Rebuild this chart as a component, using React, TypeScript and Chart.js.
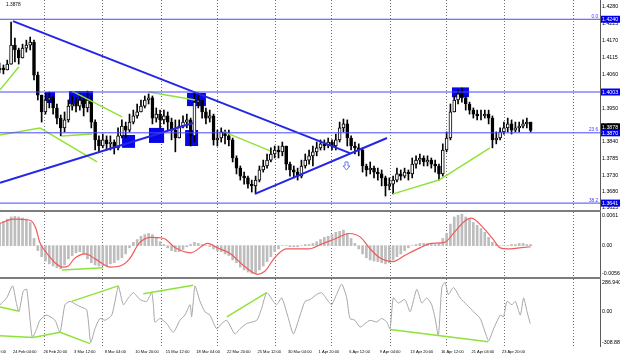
import React, { useEffect, useRef } from "react";
import { Chart, registerables } from "chart.js";

Chart.register(...registerables);

const FONT = "'Liberation Sans', 'DejaVu Sans', Arial, sans-serif";

// ---------- time axis (4-hour bars, bar 0 = 24 Feb 04:00) ----------
const TIME_LABELS = [
  "19 Feb 12:00", "24 Feb 04:00", "26 Feb 20:00", "3 Mar 12:00", "8 Mar 04:00",
  "10 Mar 20:00", "15 Mar 12:00", "18 Mar 04:00", "22 Mar 20:00", "25 Mar 12:00",
  "30 Mar 04:00", "1 Apr 20:00", "6 Apr 12:00", "9 Apr 04:00", "13 Apr 20:00",
  "16 Apr 12:00", "21 Apr 04:00", "23 Apr 20:00",
];
const TIME_LABEL_BARS = [-16, 0, 16, 32, 48, 64, 80, 96, 112, 128, 144, 160, 176, 192, 208, 224, 240, 256];
const GRID_BARS = [16.75, 47.1, 77.5, 107.3, 137.2, 167, 197.4, 227.2, 257.1, 293.2];
const X_MIN = -6.8;
const X_MAX = 307.3;

// ---------- candles (8-hour steps), prices in pips (1/10000) ----------
const CANDLE_FIRST_BAR = -7;
const CANDLE_STEP = 2;
const FIRST_OPEN = 14075;
const HIGHS = [
  14097, 14091, 14107, 14231, 14179, 14146, 14159, 14172, 14182, 14172,
  14068, 13984, 14000, 14003, 13990, 13964, 13928, 13938, 13977, 13990,
  13984, 13997, 13990, 14006, 13993, 13912, 13860, 13866, 13860, 13860,
  13847, 13886, 13912, 13905, 13931, 13944, 13964, 13977, 13990, 13997,
  13990, 13951, 13944, 13944, 13938, 13918, 13912, 13912, 13925, 13931,
  13918, 14003, 14000, 13977, 13951, 13944, 13931, 13879, 13886, 13879,
  13879, 13853, 13795, 13762, 13742, 13729, 13716, 13729, 13762, 13781,
  13801, 13821, 13827, 13827, 13840, 13827, 13775, 13762, 13755, 13781,
  13801, 13814, 13827, 13840, 13847, 13847, 13853, 13847, 13866, 13905,
  13915, 13912, 13860, 13840, 13834, 13821, 13768, 13775, 13762, 13755,
  13749, 13729, 13723, 13729, 13755, 13749, 13755, 13749, 13788, 13795,
  13801, 13795, 13795, 13788, 13781, 13768, 13834, 13873, 13964, 13990,
  14010, 14016, 13990, 13970, 13951, 13944, 13944, 13944, 13944, 13925,
  13873, 13886, 13905, 13918, 13912, 13905, 13905, 13912, 13918, 13905,
];
const LOWS = [
  14065, 14062, 14075, 14107, 14101, 14094, 14114, 14133, 14140, 14042,
  13977, 13905, 13931, 13951, 13931, 13899, 13860, 13873, 13905, 13944,
  13938, 13944, 13925, 13938, 13886, 13814, 13808, 13821, 13814, 13814,
  13801, 13814, 13853, 13853, 13873, 13899, 13918, 13938, 13951, 13964,
  13899, 13905, 13886, 13899, 13879, 13847, 13808, 13866, 13886, 13886,
  13827, 13840, 13951, 13918, 13899, 13905, 13830, 13827, 13840, 13834,
  13827, 13775, 13736, 13716, 13703, 13690, 13677, 13671, 13710, 13742,
  13755, 13775, 13788, 13788, 13795, 13749, 13729, 13723, 13716, 13723,
  13755, 13768, 13762, 13795, 13814, 13814, 13821, 13814, 13814, 13840,
  13873, 13827, 13814, 13801, 13795, 13742, 13729, 13736, 13723, 13716,
  13697, 13664, 13684, 13671, 13710, 13716, 13723, 13716, 13723, 13755,
  13768, 13762, 13762, 13755, 13742, 13716, 13729, 13808, 13847, 13938,
  13964, 13970, 13944, 13931, 13918, 13912, 13912, 13918, 13899, 13821,
  13834, 13847, 13866, 13873, 13866, 13873, 13873, 13886, 13886, 13873,
];
const CLOSES = [
  14081, 14075, 14094, 14156, 14140, 14114, 14146, 14156, 14166, 14058,
  13993, 13938, 13977, 13984, 13951, 13918, 13886, 13912, 13957, 13964,
  13957, 13977, 13951, 13977, 13905, 13847, 13827, 13847, 13834, 13840,
  13821, 13860, 13892, 13879, 13905, 13925, 13938, 13957, 13977, 13984,
  13918, 13931, 13912, 13925, 13905, 13879, 13853, 13892, 13905, 13912,
  13860, 13970, 13977, 13938, 13918, 13925, 13847, 13853, 13873, 13860,
  13847, 13788, 13755, 13729, 13723, 13703, 13697, 13716, 13749, 13762,
  13781, 13801, 13814, 13808, 13827, 13768, 13749, 13742, 13729, 13762,
  13781, 13795, 13808, 13821, 13834, 13827, 13840, 13827, 13847, 13886,
  13899, 13853, 13827, 13821, 13814, 13762, 13749, 13755, 13742, 13736,
  13723, 13697, 13703, 13716, 13736, 13729, 13742, 13736, 13768, 13781,
  13788, 13775, 13781, 13768, 13762, 13736, 13814, 13853, 13938, 13977,
  13997, 13984, 13964, 13944, 13931, 13925, 13925, 13931, 13918, 13847,
  13853, 13873, 13886, 13899, 13879, 13886, 13892, 13899, 13905, 13878,
];

// ---------- price axis & drawn objects ----------
const PRICE_TICKS = [14280, 14225, 14170, 14115, 14060, 14005, 13950, 13895, 13840, 13785, 13730, 13680, 13625];
const PRICE_MIN = 13618.5;
const PRICE_MAX = 14302.8;
const LEVELS = [14240, 14003, 13870, 13641];
const FIB_LEVELS = [14240, 13870, 13641];
const FIB_NAMES = ["0.0", "23.6", "38.2"];
const LAST_PRICE = 13878;
const TRENDLINES = [
  [0, 14234, 176.4, 13804],
  [-6.8, 13707, 94.2, 13902],
  [126.7, 13671, 195.8, 13853],
];
const MAIN_GREEN = [
  [-6.8, 14010, 3.1, 14085],
  [-6.8, 13863, 14.1, 13886],
  [14.1, 13886, 44, 13775],
  [25.7, 13860, 41.4, 13866],
  [30.9, 14006, 57.1, 13922],
  [71.2, 14003, 95.3, 13977],
  [110.5, 13873, 134.6, 13811],
  [199, 13671, 223, 13716],
  [223, 13716, 249.7, 13821],
];
const BOXES = [
  [16.8, 22.0, 14003, 13967],
  [29.3, 41.9, 14006, 13964],
  [57.1, 63.9, 13863, 13821],
  [71.2, 79.1, 13886, 13837],
  [90.1, 96.9, 13879, 13827],
  [91.1, 101.0, 14000, 13957],
  [229.8, 238.7, 14018, 13986],
];
const ARROW = [174.6, 13762];

// ---------- MACD (units of 0.0001) ----------
const MACD_MIN = -56.9;
const MACD_MAX = 61;
const MACD_LABELS = ["0.0061", "0.00", "-0.00569"];
const MACD_LABEL_VALUES = [61, 0, -56.9];
const MACD_HIST = [
  40, 44, 48, 52, 53, 52, 50, 48, 42, 13,
  -9, -20, -28, -33, -37, -40, -42, -35, -24, -18,
  -13, -11, -15, -24, -31, -35, -37, -37, -37, -33,
  -31, -26, -22, -15, -4, 6, 11, 17, 20, 22,
  20, 15, 7, 2, -4, -9, -11, -11, -7, -2,
  2, 6, 4, 2, 0, -2, -6, -9, -11, -15,
  -18, -26, -31, -39, -44, -48, -50, -50, -44, -37,
  -29, -20, -11, -6, 0, 0, -2, -2, -2, 0,
  2, 2, 4, 7, 11, 15, 17, 20, 24, 26,
  28, 22, 13, 4, -6, -15, -22, -26, -28, -29,
  -31, -33, -31, -26, -20, -15, -9, -4, 0, 2,
  4, 4, 4, 4, 2, 4, 13, 22, 39, 52,
  55, 57, 52, 48, 42, 37, 31, 24, 15, 6,
  2, 0, 0, 0, 2, 2, 4, 4, 2, 2,
];
const SIGNAL_BARS = [
  -7, 0, 9, 12, 14, 18, 22, 26, 29, 32, 38, 43, 51, 56, 61, 66, 72, 79, 85, 93,
  102, 107, 114, 121, 128, 132, 137, 143, 155, 161, 169, 176, 182, 187, 192, 199, 205, 213, 219, 226,
  231, 237, 240, 246, 251, 255, 259, 265, 271,
];
const SIGNAL_VALUES = [
  40, 48, 46, 31, 6, -15, -31, -39, -37, -24, -15, -24, -39, -37, -24, 4, 15, 13, -4, -13,
  4, -4, -15, -37, -52, -46, -22, -6, -6, 2, 13, 22, 15, -6, -22, -29, -18, -4, 4, 6,
  24, 46, 50, 33, 13, -4, -6, -4, -2,
];
const MACD_GREEN = [[25.7, -44, 47.1, -40]];

// ---------- CCI ----------
const CCI_MIN = -308.885;
const CCI_MAX = 286.9402;
const CCI_LABELS = ["286.9402", "0.00", "-308.885"];
const CCI_LABEL_VALUES = [286.9402, 0, -308.885];
const CCI_BARS = [
  -6.8, -3.3, -0.2, 1.6, 3.1, 5.4, 7.2, 10.1, 12.4, 14.1,
  17.6, 22, 24.6, 27.2, 29.8, 31.6, 35.1, 38.6, 40.7, 42.9,
  45.5, 48.2, 51.7, 54.3, 55.2, 57.8, 60.4, 63, 66.5, 70,
  72.6, 73.5, 74.3, 77, 80.5, 83.9, 87.4, 90, 92.7, 93.5,
  94.4, 95.3, 97.9, 100.5, 103.1, 106.6, 109.2, 111.9, 116.2, 118.8,
  122.3, 127.6, 130.2, 132.8, 136.3, 138, 140.7, 144.2, 146.8, 150.3,
  152.9, 155.5, 159, 161.6, 165.1, 166.8, 169.4, 172.1, 174.7, 176.4,
  179, 181.7, 184.3, 186.9, 190.4, 193, 195.6, 197.4, 199.1, 201.7,
  205.2, 207.9, 211.4, 214, 216.6, 219.2, 221, 222.7, 224.5, 226.2,
  227.9, 230.6, 234.1, 237.6, 241.1, 244.6, 247.2, 249, 251.6, 255.1,
  256.8, 258.6, 261.2, 263, 265.6, 267.3, 269.1, 270.8,
];
const CCI_VALUES = [
  58, 119, 226, 88, -4, 180, 195, -233, -156, -80,
  -34, -80, -187, 58, 88, 73, 42, 12, -278, -156,
  -64, -80, -34, 165, 226, 58, 119, 165, 104, 88,
  165, 58, -95, -64, -110, -187, -80, -34, 58, -49,
  88, 226, 88, -4, -34, -156, -110, -80, -202, -156,
  -110, -80, 27, 165, 88, 58, 119, -64, -202, -34,
  88, 104, 149, 165, 88, 58, 149, 241, 119, -64,
  -80, -141, -110, -80, -95, -64, -95, -156, 119, 73,
  104, -4, 195, 73, 119, 58, -64, -217, 211, 257,
  149, 211, 119, 58, -4, -64, -187, -263, -156, -34,
  -49, 88, 58, 88, -34, 119, -4, -110,
];
const CCI_GREEN = [
  [-6.8, 39, 2.6, 3],
  [-6.8, -217, 10.6, -233],
  [10.6, -233, 24.6, -187],
  [24.6, -187, 40.3, -288],
  [30.7, 88, 55.1, 226],
  [68.2, 156, 94.4, 232],
  [111.9, -49, 132.8, 165],
  [197.4, -162, 248.8, -272],
];

// ---------- colours ----------
const GRID_COLOR = "#6f6f6f";
const LEVEL_BLUE = "#4848ff";
const TREND_BLUE = "#2525e8";
const BOX_BLUE = "#0707e8";
const GREEN = "#8fe23a";
const AXIS_BORDER = "#5a5a5a";

const candleX = (i: number) => CANDLE_FIRST_BAR + CANDLE_STEP * i;
const OPENS = CLOSES.map((c, i) => (i === 0 ? FIRST_OPEN : CLOSES[i - 1]));

function gridAxis(): any {
  return {
    type: "linear",
    min: X_MIN,
    max: X_MAX,
    offset: false,
    bounds: "data",
    position: "bottom",
    display: true,
    afterBuildTicks: (s: any) => {
      s.ticks = GRID_BARS.map((v) => ({ value: v }));
    },
    afterFit: (s: any) => {
      s.height = 0;
      s.paddingLeft = 0;
      s.paddingRight = 0;
    },
    ticks: { display: false, autoSkip: false },
    grid: { display: true, color: GRID_COLOR, lineWidth: 1, drawTicks: false, offset: false },
    border: { display: false, dash: [1, 2] },
  };
}

function sideAxis(min: number, max: number, extra: any = {}): any {
  return {
    type: "linear",
    position: "right",
    min,
    max,
    bounds: "data",
    beginAtZero: false,
    grace: 0,
    afterFit: (s: any) => {
      s.width = 20;
      s.paddingTop = 0;
      s.paddingBottom = 0;
    },
    ticks: { display: false },
    grid: { display: false, drawTicks: false },
    border: { display: true, color: AXIS_BORDER, width: 1 },
    ...extra,
  };
}

function seg(s: number[], color: string, width: number, scale = 1): any {
  return {
    type: "line",
    data: [
      { x: s[0], y: s[1] / scale },
      { x: s[2], y: s[3] / scale },
    ],
    borderColor: color,
    borderWidth: width,
    pointRadius: 0,
    fill: false,
    tension: 0,
    order: 0,
  };
}

function panelLabels(texts: string[], values: number[]): any {
  return {
    id: "panelLabels",
    afterDraw(chart: any) {
      const { ctx, chartArea: ca } = chart;
      const y = chart.scales.y;
      ctx.save();
      ctx.font = `5.3px ${FONT}`;
      ctx.fillStyle = "#000";
      ctx.textAlign = "left";
      values.forEach((v, i) => {
        let py = y.getPixelForValue(v);
        if (i === 0) {
          ctx.textBaseline = "top";
          py += 0.5;
        } else if (i === values.length - 1) {
          ctx.textBaseline = "bottom";
          py -= 0.5;
        } else ctx.textBaseline = "middle";
        ctx.fillText(texts[i], ca.right + 2, py);
      });
      ctx.restore();
    },
  };
}

const mainDecor: any = {
  id: "mainDecor",
  beforeDatasetsDraw(chart: any) {
    const { ctx, chartArea: ca } = chart;
    const x = chart.scales.x;
    const y = chart.scales.y;
    ctx.save();
    ctx.beginPath();
    ctx.rect(ca.left, ca.top, ca.width, ca.height);
    ctx.clip();
    ctx.fillStyle = BOX_BLUE;
    BOXES.forEach(([b1, b2, p1, p2]) => {
      const x1 = x.getPixelForValue(b1);
      const x2 = x.getPixelForValue(b2);
      const y1 = y.getPixelForValue(p1 / 1e4);
      const y2 = y.getPixelForValue(p2 / 1e4);
      ctx.fillRect(Math.min(x1, x2), Math.min(y1, y2), Math.abs(x2 - x1), Math.abs(y2 - y1));
    });
    ctx.restore();
  },
  afterDraw(chart: any) {
    const { ctx, chartArea: ca } = chart;
    const x = chart.scales.x;
    const y = chart.scales.y;
    ctx.save();
    // fibo level captions
    ctx.font = `4.6px ${FONT}`;
    ctx.fillStyle = "#3535ff";
    ctx.textAlign = "right";
    ctx.textBaseline = "bottom";
    FIB_LEVELS.forEach((lv, i) => {
      ctx.fillText(FIB_NAMES[i], ca.right - 2, y.getPixelForValue(lv / 1e4) - 0.5);
    });
    // down arrow
    const ax = x.getPixelForValue(ARROW[0]);
    const ay = y.getPixelForValue(ARROW[1] / 1e4);
    ctx.beginPath();
    ctx.moveTo(ax - 1.5, ay - 4);
    ctx.lineTo(ax + 1.5, ay - 4);
    ctx.lineTo(ax + 1.5, ay);
    ctx.lineTo(ax + 3.5, ay);
    ctx.lineTo(ax, ay + 4);
    ctx.lineTo(ax - 3.5, ay);
    ctx.lineTo(ax - 1.5, ay);
    ctx.closePath();
    ctx.strokeStyle = "#5d7bff";
    ctx.lineWidth = 1;
    ctx.stroke();
    // right axis value boxes
    const bh = 7;
    ctx.font = `5.3px ${FONT}`;
    ctx.textAlign = "left";
    ctx.textBaseline = "middle";
    const levelPix = LEVELS.map((l) => y.getPixelForValue(l / 1e4));
    let lp = y.getPixelForValue(LAST_PRICE / 1e4);
    levelPix.forEach((p) => {
      if (Math.abs(p - lp) < bh) lp = p - bh + 1;
    });
    ctx.fillStyle = "#000";
    ctx.fillRect(ca.right + 1, lp - bh / 2, 19, bh);
    ctx.fillStyle = "#fff";
    ctx.fillText((LAST_PRICE / 1e4).toFixed(4), ca.right + 2, lp + 0.5);
    LEVELS.forEach((l, i) => {
      const py = levelPix[i];
      ctx.fillStyle = "#0000ee";
      ctx.fillRect(ca.right + 1, py - bh / 2, 19, bh);
      ctx.fillStyle = "#fff";
      ctx.fillText((l / 1e4).toFixed(4), ca.right + 2, py + 0.5);
    });
    // top-left price
    ctx.fillStyle = "#000";
    ctx.font = `4.8px ${FONT}`;
    ctx.textBaseline = "top";
    ctx.fillText((LAST_PRICE / 1e4).toFixed(4), 6, 2);
    ctx.restore();
  },
};

function mainConfig(): any {
  const wicks = HIGHS.map((h, i) => ({
    x: candleX(i),
    y: [Math.min(LOWS[i], OPENS[i], CLOSES[i]) / 1e4, Math.max(h, OPENS[i], CLOSES[i]) / 1e4],
  }));
  const bodies = CLOSES.map((c, i) => ({ x: candleX(i), y: [OPENS[i] / 1e4, c / 1e4] }));
  const bodyColors = CLOSES.map((c, i) => (c >= OPENS[i] ? "#ffffff" : "#000000"));
  const datasets: any[] = [
    ...LEVELS.map((l) => seg([X_MIN, l, X_MAX, l], LEVEL_BLUE, 1, 1e4)),
    ...TRENDLINES.map((t) => seg(t, TREND_BLUE, 2, 1e4)),
    ...MAIN_GREEN.map((g) => seg(g, GREEN, 1.5, 1e4)),
    {
      type: "bar",
      data: bodies,
      backgroundColor: bodyColors,
      borderColor: "#000",
      borderWidth: 1,
      borderSkipped: false,
      barThickness: 3,
      grouped: false,
      order: 1,
    },
    {
      type: "bar",
      data: wicks,
      backgroundColor: "#000",
      borderWidth: 0,
      barThickness: 1,
      grouped: false,
      order: 2,
    },
  ];
  return {
    type: "bar",
    data: { datasets },
    options: {
      responsive: false,
      animation: false,
      devicePixelRatio: 1,
      events: [],
      layout: { padding: 0 },
      plugins: { legend: { display: false }, tooltip: { enabled: false } },
      scales: {
        x: gridAxis(),
        y: sideAxis(PRICE_MIN / 1e4, PRICE_MAX / 1e4, {
          afterBuildTicks: (s: any) => {
            s.ticks = PRICE_TICKS.map((v) => ({ value: v / 1e4 }));
          },
          ticks: {
            display: true,
            autoSkip: false,
            padding: 2,
            color: "#000",
            font: { family: FONT, size: 5.3 },
            callback: (v: any) => Number(v).toFixed(4),
          },
        }),
      },
    },
    plugins: [mainDecor],
  };
}

function macdConfig(): any {
  return {
    type: "bar",
    data: {
      datasets: [
        ...MACD_GREEN.map((g) => seg(g, GREEN, 1.5, 1e4)),
        {
          type: "line",
          data: SIGNAL_BARS.map((b, i) => ({ x: b, y: SIGNAL_VALUES[i] / 1e4 })),
          borderColor: "#f25a5a",
          borderWidth: 1.2,
          pointRadius: 0,
          fill: false,
          cubicInterpolationMode: "monotone",
          order: 1,
        },
        {
          type: "bar",
          data: MACD_HIST.map((v, i) => ({ x: candleX(i), y: v / 1e4 })),
          backgroundColor: "#bdbdbd",
          borderWidth: 0,
          barThickness: 2,
          grouped: false,
          order: 2,
        },
      ],
    },
    options: {
      responsive: false,
      animation: false,
      devicePixelRatio: 1,
      events: [],
      layout: { padding: 0 },
      plugins: { legend: { display: false }, tooltip: { enabled: false } },
      scales: {
        x: gridAxis(),
        y: sideAxis(MACD_MIN / 1e4, MACD_MAX / 1e4),
      },
    },
    plugins: [panelLabels(MACD_LABELS, MACD_LABEL_VALUES.map((v) => v / 1e4))],
  };
}

function cciConfig(): any {
  return {
    type: "line",
    data: {
      datasets: [
        ...CCI_GREEN.map((g) => seg(g, GREEN, 1.5, 1)),
        {
          type: "line",
          data: CCI_BARS.map((b, i) => ({ x: b, y: CCI_VALUES[i] })),
          borderColor: "#a6a6a6",
          borderWidth: 1,
          pointRadius: 0,
          fill: false,
          tension: 0.2,
          order: 1,
        },
      ],
    },
    options: {
      responsive: false,
      animation: false,
      devicePixelRatio: 1,
      events: [],
      layout: { padding: 0 },
      plugins: { legend: { display: false }, tooltip: { enabled: false } },
      scales: {
        x: {
          type: "linear",
          min: X_MIN,
          max: X_MAX,
          offset: false,
          bounds: "data",
          position: "bottom",
          afterBuildTicks: (s: any) => {
            s.ticks = TIME_LABEL_BARS.map((v) => ({ value: v }));
          },
          afterFit: (s: any) => {
            s.height = 11;
            s.paddingLeft = 0;
            s.paddingRight = 0;
          },
          ticks: {
            autoSkip: false,
            maxRotation: 0,
            minRotation: 0,
            align: "start",
            padding: 3,
            color: "#000",
            font: { family: FONT, size: 4 },
            callback: (_v: any, i: number) => TIME_LABELS[i],
          },
          grid: { display: false, drawTicks: false },
          border: { display: false },
        },
        xg: gridAxis(),
        y: sideAxis(CCI_MIN, CCI_MAX),
      },
    },
    plugins: [panelLabels(CCI_LABELS, CCI_LABEL_VALUES)],
  };
}

export default function App() {
  const mainRef = useRef<HTMLCanvasElement>(null);
  const macdRef = useRef<HTMLCanvasElement>(null);
  const cciRef = useRef<HTMLCanvasElement>(null);

  useEffect(() => {
    const charts: Chart[] = [];
    if (mainRef.current) charts.push(new Chart(mainRef.current, mainConfig()));
    if (macdRef.current) charts.push(new Chart(macdRef.current, macdConfig()));
    if (cciRef.current) charts.push(new Chart(cciRef.current, cciConfig()));
    return () => charts.forEach((c) => c.destroy());
  }, []);

  const sep = (top: number) => (
    <div style={{ position: "absolute", left: 0, top, width: 601, height: 2, background: "#7c7c7c" }} />
  );

  return (
    <div
      style={{
        position: "fixed",
        left: 0,
        top: 0,
        width: 620,
        height: 357,
        background: "#ffffff",
        overflow: "hidden",
      }}
    >
      <canvas ref={mainRef} width={620} height={210} style={{ position: "absolute", left: 0, top: 0, width: 620, height: 210 }} />
      {sep(210)}
      <canvas ref={macdRef} width={620} height={65} style={{ position: "absolute", left: 0, top: 212, width: 620, height: 65 }} />
      {sep(277)}
      <canvas ref={cciRef} width={620} height={78} style={{ position: "absolute", left: 0, top: 279, width: 620, height: 78 }} />
    </div>
  );
}
